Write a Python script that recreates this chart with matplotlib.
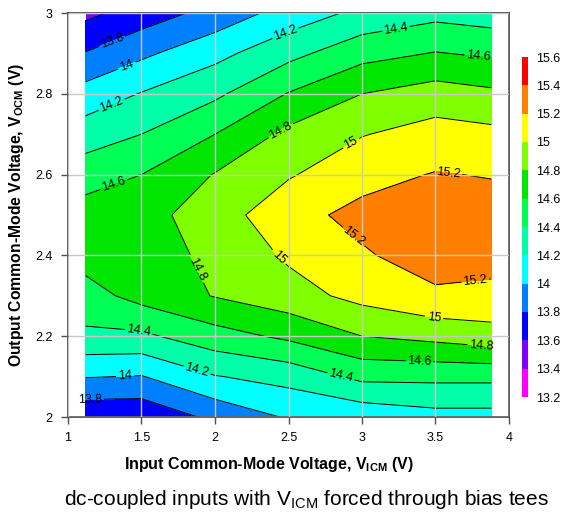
import numpy as np
import matplotlib
matplotlib.use("Agg")
import matplotlib.pyplot as plt

plt.rcParams['font.family'] = ['Liberation Sans', 'DejaVu Sans']
plt.rcParams['mathtext.fontset'] = 'custom'
plt.rcParams['mathtext.rm'] = 'Liberation Sans'
plt.rcParams['mathtext.bf'] = 'Liberation Sans:bold'
plt.rcParams['mathtext.it'] = 'Liberation Sans:italic'

# ---- data ----
vicm = [1.12, 1.5, 2.0, 2.5, 3.0, 3.5, 3.88]
vocm = [2.0, 2.1, 2.2, 2.3, 2.4, 2.5, 2.6, 2.7, 2.8, 2.9, 3.0]
# rows follow vocm (bottom to top), columns follow vicm
gain_row_20 = [13.64, 13.64, 13.85, 14.02, 14.06, 14.13, 14.13]
gain_row_21 = [14.01, 13.99, 14.19, 14.27, 14.45, 14.45, 14.45]
gain_row_22 = [14.36, 14.36, 14.52, 14.64, 14.80, 14.86, 14.92]
gain_row_23 = [14.52, 14.67, 14.81, 14.92, 15.06, 15.17, 15.15]
gain_row_24 = [14.68, 14.72, 14.84, 15.03, 15.18, 15.28, 15.27]
gain_row_25 = [14.69, 14.73, 14.90, 15.14, 15.25, 15.30, 15.28]
gain_row_26 = [14.51, 14.60, 14.81, 14.98, 15.14, 15.21, 15.19]
gain_row_27 = [14.30, 14.40, 14.60, 14.85, 14.99, 15.08, 15.05]
gain_row_28 = [14.08, 14.21, 14.36, 14.61, 14.80, 14.89, 14.84]
gain_row_29 = [13.81, 13.96, 14.14, 14.34, 14.53, 14.61, 14.57]
gain_row_30 = [13.55, 13.69, 13.87, 14.08, 14.25, 14.34, 14.30]
levels = [13.2, 13.4, 13.6, 13.8, 14.0, 14.2, 14.4, 14.6, 14.8, 15.0, 15.2, 15.4, 15.6]
xticks = [1, 1.5, 2, 2.5, 3, 3.5, 4]
yticks = [2, 2.2, 2.4, 2.6, 2.8, 3]

Z = np.array([gain_row_20, gain_row_21, gain_row_22, gain_row_23, gain_row_24,
              gain_row_25, gain_row_26, gain_row_27, gain_row_28, gain_row_29,
              gain_row_30])
X, Y = np.meshgrid(vicm, vocm)

band_colors = ['#FF00FF', '#8000FF', '#0000FF', '#0080FF', '#00FFFF', '#00FFA8',
               '#00FF55', '#00E600', '#80FF00', '#FFFF00', '#FF8000', '#FF0000']

fig = plt.figure(figsize=(5.64, 5.14), dpi=100)
ax = fig.add_axes([68/564, 1-417/514, 441/564, 404/514])

cf = ax.contourf(X, Y, Z, levels=levels, colors=band_colors)
cs = ax.contour(X, Y, Z, levels=levels, colors='black', linewidths=0.7)

label_pos = [(1.29, 2.94), (1.41, 2.86), (1.29, 2.78), (2.47, 2.96), (3.23, 2.965),
             (3.79, 2.89), (1.32, 2.565), (2.46, 2.70), (2.91, 2.69), (3.59, 2.61),
             (2.94, 2.445), (1.9, 2.37), (2.40, 2.38), (3.77, 2.34), (3.48, 2.22),
             (3.81, 2.17), (3.39, 2.12), (2.85, 2.09), (1.87, 2.105), (1.48, 2.2),
             (1.39, 2.097), (1.15, 2.047)]
ax.clabel(cs, fmt='%g', fontsize=9, manual=label_pos, inline=True, inline_spacing=3)

ax.set_xlim(1, 4)
ax.set_ylim(2, 3)
ax.set_xticks(xticks)
ax.set_yticks(yticks)
ax.set_xticklabels(['%g' % t for t in xticks])
ax.set_yticklabels(['%g' % t for t in yticks])
ax.tick_params(labelsize=9, length=5, width=1, color='#505050', pad=6)
ax.grid(True, color='#C8C8C8', linewidth=1, zorder=5)
ax.set_axisbelow(False)
for s in ax.spines.values():
    s.set_color('#505050')
    s.set_linewidth(1.3)

ax.set_xlabel(r'Input Common-Mode Voltage, V$_\mathbf{ICM}$ (V)', fontsize=11.5,
              fontweight='bold')
ax.xaxis.set_label_coords(0.455, -0.095)
ax.set_ylabel(r'Output Common-Mode Voltage, V$_\mathbf{OCM}$ (V)', fontsize=11.3,
              fontweight='bold', labelpad=7)

cax = fig.add_axes([522/564, 1-397/514, 6/564, 340/514])
cb = fig.colorbar(cf, cax=cax, ticks=levels)
cb.outline.set_visible(False)
cb.ax.tick_params(length=0, labelsize=9, pad=6)
cb.ax.set_yticklabels(['%g' % l for l in levels])

fig.text(0.543, 0.028, r'dc-coupled inputs with V$_\mathrm{ICM}$ forced through bias tees',
         ha='center', va='center', fontsize=15)

fig.savefig('out.png', dpi=100)
